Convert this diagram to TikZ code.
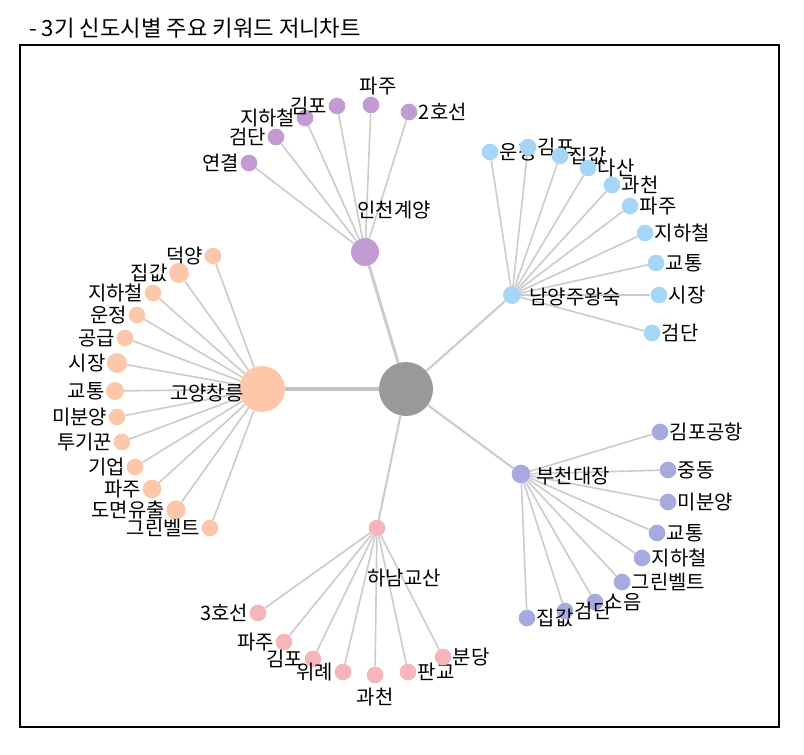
\documentclass[tikz,border=0pt]{standalone}
\usepackage{fontspec}
\setmainfont{Noto Sans CJK KR}
\usetikzlibrary{positioning,backgrounds}
\definecolor{cgray}{HTML}{999999}
\definecolor{cpurple}{HTML}{C39BD3}
\definecolor{cblue}{HTML}{A6D6F7}
\definecolor{cpeach}{HTML}{FDC7AA}
\definecolor{clav}{HTML}{A6AADF}
\definecolor{cpink}{HTML}{F5B5B9}
\definecolor{cedge}{HTML}{CCCCCC}

\begin{document}
\begin{tikzpicture}[x=0.03cm,y=-0.03cm]
\tikzstyle{leaf}=[circle, inner sep=0pt, minimum size=0.5cm]
\tikzstyle{lab}=[font=\fontsize{17}{19}\selectfont, inner sep=1pt]
\tikzstyle{every label}=[lab, label distance=0pt]
\tikzstyle{link}=[draw=cedge, line width=1.4pt]
\useasboundingbox (0,0) rectangle (804,755);
\node[anchor=west, font=\fontsize{19}{21}\selectfont, inner sep=0pt] (title) at (29,28) {- 3기 신도시별 주요 키워드 저니차트};
\draw[line width=1.4pt] (20,45) rectangle (779,727);

% center and hubs
\node[circle, fill=cgray, minimum size=1.62cm] (c0) at (406,389) {};
\node[circle, fill=cpurple, minimum size=0.84cm] (ic) at (365,252) {};
\node[circle, fill=cblue, minimum size=0.54cm] (nw) at (512,295) {};
\node[circle, fill=cpeach, minimum size=1.38cm] (gc) at (262,389) {};
\node[circle, fill=clav, minimum size=0.56cm] (bd) at (521,474) {};
\node[circle, fill=cpink, minimum size=0.5cm] (hg) at (377,528) {};
\node[lab, anchor=west] (ic-t) at (356,210) {인천계양};
\node[lab, anchor=west] (nw-t) at (528,297) {남양주왕숙};
\node[lab, anchor=east] (gc-t) at (245,393) {고양창릉};
\node[lab, anchor=west] (bd-t) at (535,476) {부천대장};
\node[lab, anchor=west] (hg-t) at (366,578) {하남교산};

% 인천계양
\node[leaf, fill=cpurple, label=left:연결] (ic1) at (249,163) {};
\node[leaf, fill=cpurple, label=left:검단] (ic2) at (276,137) {};
\node[leaf, fill=cpurple, label=left:지하철] (ic3) at (305,118) {};
\node[leaf, fill=cpurple, label=left:김포] (ic4) at (337,106) {};
\node[leaf, fill=cpurple, label={[xshift=6pt]above:파주}] (ic5) at (371,105) {};
\node[leaf, fill=cpurple, label=right:2호선] (ic6) at (409,112) {};

% 남양주왕숙
\node[leaf, fill=cblue, label=right:운정] (nw1) at (490,152) {};
\node[leaf, fill=cblue, label=right:김포] (nw2) at (528,147) {};
\node[leaf, fill=cblue, label=right:집값] (nw3) at (560,156) {};
\node[leaf, fill=cblue, label=right:다산] (nw4) at (588,168) {};
\node[leaf, fill=cblue, label=right:과천] (nw5) at (612,185) {};
\node[leaf, fill=cblue, label=right:파주] (nw6) at (630,206) {};
\node[leaf, fill=cblue, label=right:지하철] (nw7) at (645,233) {};
\node[leaf, fill=cblue, label=right:교통] (nw8) at (656,263) {};
\node[leaf, fill=cblue, label=right:시장] (nw9) at (659,295) {};
\node[leaf, fill=cblue, label=right:검단] (nw10) at (652,333) {};

% 고양창릉
\node[leaf, fill=cpeach, label=left:덕양] (gc1) at (213,256) {};
\node[leaf, fill=cpeach, minimum size=0.6cm, label=left:집값] (gc2) at (179,273) {};
\node[leaf, fill=cpeach, label=left:지하철] (gc3) at (153,293) {};
\node[leaf, fill=cpeach, label=left:운정] (gc4) at (137,315) {};
\node[leaf, fill=cpeach, label=left:공급] (gc5) at (125,338) {};
\node[leaf, fill=cpeach, minimum size=0.6cm, label=left:시장] (gc6) at (117,363) {};
\node[leaf, fill=cpeach, minimum size=0.54cm, label=left:교통] (gc7) at (115,391) {};
\node[leaf, fill=cpeach, label=left:미분양] (gc8) at (117,417) {};
\node[leaf, fill=cpeach, label=left:투기꾼] (gc9) at (122,442) {};
\node[leaf, fill=cpeach, label=left:기업] (gc10) at (135,467) {};
\node[leaf, fill=cpeach, minimum size=0.56cm, label=left:파주] (gc11) at (152,489) {};
\node[leaf, fill=cpeach, minimum size=0.58cm, label=left:도면유출] (gc12) at (176,510) {};
\node[leaf, fill=cpeach, label=left:그린벨트] (gc13) at (210,528) {};

% 부천대장
\node[leaf, fill=clav, label=right:김포공항] (bd1) at (660,432) {};
\node[leaf, fill=clav, label=right:중동] (bd2) at (668,470) {};
\node[leaf, fill=clav, label=right:미분양] (bd3) at (668,502) {};
\node[leaf, fill=clav, label=right:교통] (bd4) at (657,533) {};
\node[leaf, fill=clav, label=right:지하철] (bd5) at (642,558) {};
\node[leaf, fill=clav, label=right:그린벨트] (bd6) at (622,582) {};
\node[leaf, fill=clav, label=right:소음] (bd7) at (595,602) {};
\node[leaf, fill=clav, label=right:검단] (bd8) at (565,611) {};
\node[leaf, fill=clav, label=right:집값] (bd9) at (527,618) {};

% 하남교산
\node[leaf, fill=cpink, label=left:3호선] (hg1) at (258,613) {};
\node[leaf, fill=cpink, label=left:파주] (hg2) at (284,642) {};
\node[leaf, fill=cpink, label=left:김포] (hg3) at (313,659) {};
\node[leaf, fill=cpink, label=left:위례] (hg4) at (343,672) {};
\node[leaf, fill=cpink, label={[label distance=3pt]below:과천}] (hg5) at (375,675) {};
\node[leaf, fill=cpink, label=right:판교] (hg6) at (408,672) {};
\node[leaf, fill=cpink, label=right:분당] (hg7) at (443,657) {};

\begin{scope}[on background layer]
\draw[draw=cedge!95!black, line width=3.6pt] (c0) -- (gc);
\draw[draw=cedge, line width=2.6pt] (c0) -- (ic);
\foreach \j in {nw,bd,hg}{\draw[link, line width=1.8pt] (c0) -- (\j);}
\foreach \i/\j in {ic/ic1,ic/ic2,ic/ic3,ic/ic4,ic/ic5,ic/ic6,
  nw/nw1,nw/nw2,nw/nw3,nw/nw4,nw/nw5,nw/nw6,nw/nw7,nw/nw8,nw/nw9,nw/nw10,
  gc/gc1,gc/gc2,gc/gc3,gc/gc4,gc/gc5,gc/gc6,gc/gc7,gc/gc8,gc/gc9,gc/gc10,gc/gc11,gc/gc12,gc/gc13,
  bd/bd1,bd/bd2,bd/bd3,bd/bd4,bd/bd5,bd/bd6,bd/bd7,bd/bd8,bd/bd9,
  hg/hg1,hg/hg2,hg/hg3,hg/hg4,hg/hg5,hg/hg6,hg/hg7}{\draw[link] (\i) -- (\j);}
\end{scope}
\end{tikzpicture}
\end{document}
